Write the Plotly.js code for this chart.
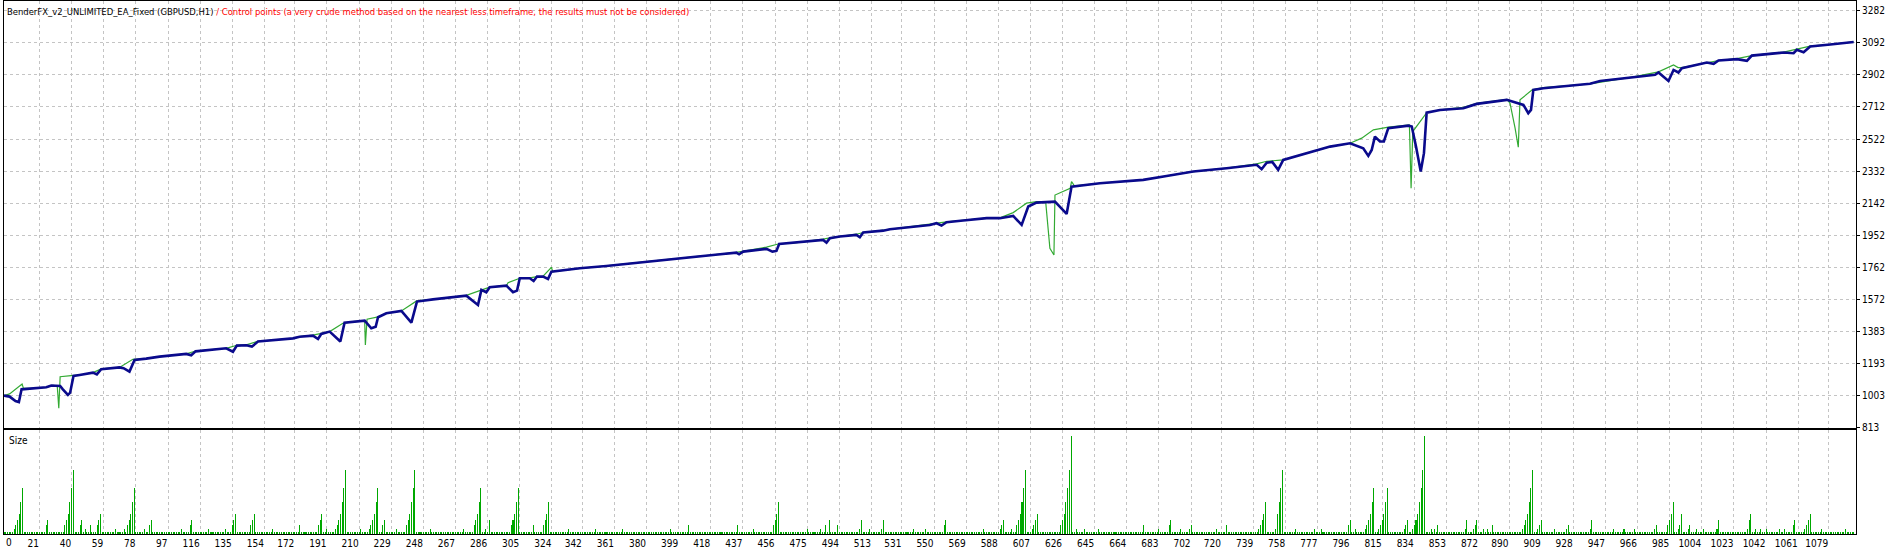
<!DOCTYPE html>
<html>
<head>
<meta charset="utf-8">
<script src="https://cdn.plot.ly/plotly-3.0.1.min.js"></script>
<style>
  html, body { margin: 0; padding: 0; background: #ffffff; }
  #chart { width: 1900px; height: 551px; }
</style>
</head>
<body>
<div id="chart"></div>
<script>
// ---------------- DATA ----------------
const chartTitle = 'BenderFX_v2_UNLIMITED_EA_Fixed (GBPUSD,H1)';
const chartNote = '/ Control points (a very crude method based on the nearest less timeframe, the results must not be considered)';

// Balance line (blue): trade number, account value
const balanceX = [0,3.3,6.8,8.8,10.4,17.1,25,28,33.2,34.8,37.8,39.1,41.1,44.7,52.6,54.9,57.5,68.3,70.7,74.2,77.2,84.1,92,107.8,110.7,113.3,131.4,135.4,137.7,143.3,146.6,150.2,170.9,174.8,182.7,185.7,187.6,192.6,198.9,201.4,206.4,213.3,217.2,219.8,221.2,226.1,235,240.9,244.2,253.7,273.4,280.3,282.3,285.2,287.2,297.1,301,303.4,305,310.9,313.2,315.2,318.8,321.7,323.7,340.5,356.2,379.9,395.7,405.5,419.3,433.1,434.7,437.1,450.9,454.4,456.8,458.4,468.6,484.4,486.4,488.4,494.3,504.1,506.1,508.1,519.9,523.9,547.5,551.5,554.4,557.4,567.2,581.1,588.9,596.8,601.8,605.7,610.6,621.5,628.4,631.3,648.1,673.7,687.5,703.3,723,740.8,743.7,746.7,750,753.5,756.5,784.2,796,803.8,806.8,808.8,810.7,813.7,816,818.6,830.5,832.5,835,837.8,839.7,841.3,849.2,863,870.9,888.7,898.5,901.4,903,904.4,910.3,937.9,943.9,963.6,976.4,978.4,984.3,987.3,990.2,992.2,1003.1,1007,1011,1013.9,1024.8,1030.7,1033.6,1052.4,1058.3,1060.2,1064.2,1068.1,1080,1089.8,1093.8];
const balanceY = [1002,996,970,964,1039,1045,1051,1062,1059,1039,1006,1019,1118,1124,1138,1128,1158,1169,1164,1144,1213,1221,1233,1249,1241,1264,1282,1262,1298,1300,1292,1322,1341,1351,1357,1337,1367,1381,1322,1434,1440,1446,1401,1410,1466,1490,1503,1434,1559,1572,1594,1539,1628,1614,1644,1653,1614,1624,1697,1697,1681,1707,1707,1693,1736,1756,1770,1796,1810,1821,1835,1849,1839,1855,1871,1855,1859,1900,1908,1924,1908,1934,1944,1954,1940,1968,1979,1987,2013,2023,2009,2029,2039,2053,2053,2066,2013,2122,2145,2151,2078,2240,2260,2280,2303,2329,2349,2369,2343,2382,2386,2339,2398,2477,2497,2467,2422,2457,2536,2507,2507,2586,2601,2596,2477,2329,2438,2678,2694,2704,2730,2754,2724,2675,2694,2813,2823,2849,2866,2888,2902,2916,2866,2931,2916,2941,2965,2975,2967,2987,2995,2985,3016,3034,3030,3050,3036,3070,3082,3090,3097];

// Equity line (green)
const equityX = [0,3.3,10.7,11.5,17.1,25,28.9,31.5,32.4,33.2,39.7,44.7,52.6,57.5,68.3,76.2,84.1,92,107.8,113.3,131.4,137.7,143.3,150.2,170.9,174.8,182.7,187.6,192.6,200.4,206.4,213.3,213.7,214.7,221.2,226.1,235,244,253.7,273.4,282.9,287.2,297.1,298.1,305,310.9,315.2,318.8,323.7,324.5,340.5,356.2,379.9,395.7,405.5,419.3,433.1,437.1,450.9,457.8,468.6,484.4,488.4,504.1,508.1,523.9,551.5,557.4,581.1,588.9,596.8,604.7,610.6,616,618.5,620.9,621.5,630.5,631.3,633,648.1,673.7,687.5,703.3,723,740.8,746.7,753,756.5,784.2,796,802.9,809.8,818.6,831.1,832.1,833.1,841.3,849.2,863,870.9,888.7,890.6,893.6,895.5,896.5,903.7,910.3,937.9,963.6,978.4,987.3,990,992.2,1003.1,1013.9,1024.8,1033.6,1052.4,1068.1,1080,1093.8];
const equityY = [1002,1012,1071,1045,1045,1051,1062,1058,927,1114,1120,1124,1138,1160,1169,1217,1221,1233,1249,1266,1282,1300,1302,1324,1341,1351,1360,1370,1381,1430,1440,1446,1302,1454,1468,1490,1503,1563,1572,1596,1626,1644,1653,1671,1697,1699,1707,1709,1762,1736,1756,1770,1796,1810,1821,1835,1851,1857,1881,1900,1908,1929,1936,1958,1968,1987,2025,2031,2053,2055,2086,2142,2151,2151,1875,1835,2190,2230,2270,2244,2260,2280,2303,2329,2349,2375,2390,2394,2398,2477,2497,2527,2576,2592,2606,2231,2566,2678,2694,2710,2733,2757,2734,2586,2473,2754,2813,2826,2849,2890,2920,2961,2945,2945,2965,2987,2998,3016,3037,3072,3082,3097];

// Lot sizes: every trade has the base lot; martingale runs listed as [first trade, lots...]
const tradeCount = 1095;
const baseLot = 0.01;
const lotRuns = [
  [6,[0.02,0.04,0.06,0.09,0.14,0.20]], [25,[0.04,0.06]], [36,[0.04,0.06,0.09,0.14,0.20,0.28]],
  [45,[0.04,0.06]], [48,[0.02]], [51,[0.04]], [55,[0.04,0.06,0.09]], [66,[0.02]], [71,[0.02]],
  [73,[0.04,0.06,0.09,0.14,0.20]], [83,[0.02]], [86,[0.04,0.06]], [105,[0.02]], [110,[0.04,0.06]],
  [121,[0.02]], [131,[0.02]], [135,[0.04,0.06,0.09]], [146,[0.04,0.06,0.09]], [159,[0.02]],
  [175,[0.04]], [186,[0.04,0.06,0.09]], [191,[0.02]], [196,[0.02,0.04,0.06,0.09,0.14,0.20,0.28]],
  [211,[0.02]], [216,[0.02,0.04,0.06,0.09,0.14,0.20]], [224,[0.04,0.06]], [232,[0.02]],
  [238,[0.04,0.06,0.09,0.14,0.20,0.28]], [252,[0.02]], [272,[0.02]], [278,[0.04,0.06,0.09,0.14,0.20]],
  [285,[0.02]], [287,[0.06]], [300,[0.04,0.06,0.09,0.14,0.20]], [313,[0.04]], [319,[0.04,0.06,0.09,0.14]],
  [334,[0.02]], [350,[0.02]], [366,[0.02]], [394,[0.02]], [405,[0.04]], [434,[0.04]], [443,[0.02]],
  [455,[0.04,0.06,0.09,0.14]], [475,[0.02]], [483,[0.02]], [486,[0.04]], [488,[0.06]], [493,[0.04]],
  [506,[0.02,0.06]], [512,[0.02]], [519,[0.02,0.06]], [538,[0.02]], [545,[0.02]], [556,[0.04,0.06]],
  [579,[0.02]], [589,[0.02,0.04,0.06]], [596,[0.02]], [599,[0.04,0.06,0.09,0.14,0.20,0.28]],
  [608,[0.02,0.04,0.06,0.09]], [625,[0.04,0.06,0.09,0.14,0.20,0.28,0.43]], [634,[0.02]], [639,[0.02]],
  [647,[0.02]], [674,[0.04]], [683,[0.02]], [689,[0.04,0.06]], [696,[0.02]], [701,[0.02,0.04]],
  [717,[0.02]], [723,[0.04]], [742,[0.02,0.04,0.06,0.09,0.14]], [752,[0.02,0.09,0.14,0.20,0.28]],
  [764,[0.02]], [775,[0.02]], [779,[0.02]], [795,[0.04,0.06]], [799,[0.02]],
  [805,[0.02,0.04,0.06,0.09,0.14,0.20]], [813,[0.02,0.04,0.06,0.09,0.14,0.20]], [828,[0.02,0.04,0.06]],
  [833,[0.02,0.04,0.06,0.09,0.14,0.20,0.28,0.43]], [844,[0.02]], [846,[0.02]], [848,[0.04]],
  [864,[0.02,0.06]], [869,[0.02,0.04,0.06]], [875,[0.02]], [877,[0.02]], [880,[0.04]],
  [898,[0.02,0.04,0.06,0.09,0.14,0.20,0.28]], [907,[0.02,0.04,0.06]], [917,[0.02]], [924,[0.02,0.04]],
  [938,[0.02,0.06]], [952,[0.02]], [958,[0.02]], [964,[0.02]], [976,[0.02,0.04]],
  [984,[0.04,0.06,0.09,0.14]], [990,[0.02,0.04,0.09]], [996,[0.02,0.04]], [1001,[0.02]], [1005,[0.02]],
  [1013,[0.02,0.06]], [1031,[0.02,0.06,0.09]], [1036,[0.02]], [1039,[0.02]], [1042,[0.02]],
  [1050,[0.02]], [1053,[0.02]], [1058,[0.04,0.06]], [1065,[0.02,0.04,0.06,0.09]], [1075,[0.02]], [1089,[0.02]]
];

// Axis labels
const xTickLabels = ['21','40','59','78','97','116','135','154','172','191','210','229','248','267','286','305','324','342','361','380','399','418','437','456','475','494','513','531','550','569','588','607','626','645','664','683','702','720','739','758','777','796','815','834','853','872','890','909','928','947','966','985','1004','1023','1042','1061','1079'];
const yTickLabels = ['813','1003','1193','1383','1572','1762','1952','2142','2332','2522','2712','2902','3092','3282'];
const sizeLabel = 'Size';

// ---------------- BUILD ----------------
const tradeIdx = [];
const lots = [];
for (let i = 0; i < tradeCount; i++) { tradeIdx.push(i); lots.push(baseLot); }
lotRuns.forEach(([start, seq]) => seq.forEach((v, j) => { if (start + j < tradeCount) lots[start + j] = v; }));

const FONT = "'Liberation Sans Narrow', 'DejaVu Sans Condensed', 'Liberation Sans', sans-serif";
const GRID = '#c4c4c4';

const traces = [
  { x: equityX, y: equityY, type: 'scatter', mode: 'lines', xaxis: 'x', yaxis: 'y',
    line: { color: '#33aa33', width: 1.2 }, hoverinfo: 'skip' },
  { x: balanceX, y: balanceY, type: 'scatter', mode: 'lines', xaxis: 'x', yaxis: 'y',
    line: { color: '#0a0a8c', width: 2.6 }, hoverinfo: 'skip' },
  { x: tradeIdx, y: lots, type: 'bar', xaxis: 'x2', yaxis: 'y2', width: 0.6,
    marker: { color: '#00a800', line: { width: 0 } }, hoverinfo: 'skip' }
];

const xTickVals = xTickLabels.map(Number);
const yTickVals = yTickLabels.map(Number);

const common = {
  showline: true, mirror: true, linecolor: '#000000', linewidth: 1, zeroline: false
};

const layout = {
  width: 1900, height: 551,
  margin: { l: 4, r: 44, t: 1, b: 17, pad: 0 },
  paper_bgcolor: '#ffffff', plot_bgcolor: '#ffffff',
  showlegend: false,
  font: { family: FONT, size: 10, color: '#000000' },
  bargap: 0,
  xaxis: Object.assign({}, common, {
    domain: [0, 1], anchor: 'y', range: [0, 1095.2], tickvals: xTickVals,
    showticklabels: false, ticks: '', showgrid: true, gridcolor: GRID, griddash: '3px,3px', gridwidth: 1
  }),
  yaxis: Object.assign({}, common, {
    domain: [0.1998, 1], anchor: 'x', range: [812.9, 3339.5], side: 'right',
    tickvals: yTickVals, ticktext: yTickLabels, ticks: 'outside', ticklen: 3, tickcolor: '#000000',
    showgrid: true, gridcolor: GRID, griddash: '3px,3px', gridwidth: 1,
    tickfont: { family: FONT, size: 10, color: '#000000' }
  }),
  xaxis2: Object.assign({}, common, {
    domain: [0, 1], anchor: 'y2', matches: 'x', range: [0, 1095.2], tickvals: xTickVals, ticktext: xTickLabels,
    ticks: '', tickangle: 0, ticklabelposition: 'outside left', showgrid: true, gridcolor: GRID, griddash: '3px,3px', gridwidth: 1,
    tickfont: { family: FONT, size: 10, color: '#000000' }
  }),
  yaxis2: Object.assign({}, common, {
    domain: [0, 0.1951], anchor: 'x2', range: [0, 0.457], showticklabels: false, ticks: '', showgrid: false
  }),
  annotations: [
    { xref: 'paper', yref: 'paper', x: 0, y: 1, xanchor: 'left', yanchor: 'top', xshift: 1, yshift: -3,
      showarrow: false, align: 'left', font: { family: FONT, size: 9.4, color: '#000000' },
      text: chartTitle + ' <span style="color:#ff0000">' + chartNote + '</span>' },
    { xref: 'paper', yref: 'paper', x: 0, y: 0.1951, xanchor: 'left', yanchor: 'top', xshift: 3, yshift: -3,
      showarrow: false, font: { family: FONT, size: 10, color: '#000000' }, text: sizeLabel },
    { xref: 'paper', yref: 'paper', x: 0, y: 0, xanchor: 'left', yanchor: 'top', xshift: 0, yshift: -1,
      showarrow: false, font: { family: FONT, size: 10, color: '#000000' }, text: '0' }
  ]
};

Plotly.newPlot('chart', traces, layout, { staticPlot: true, displayModeBar: false });
</script>
</body>
</html>
